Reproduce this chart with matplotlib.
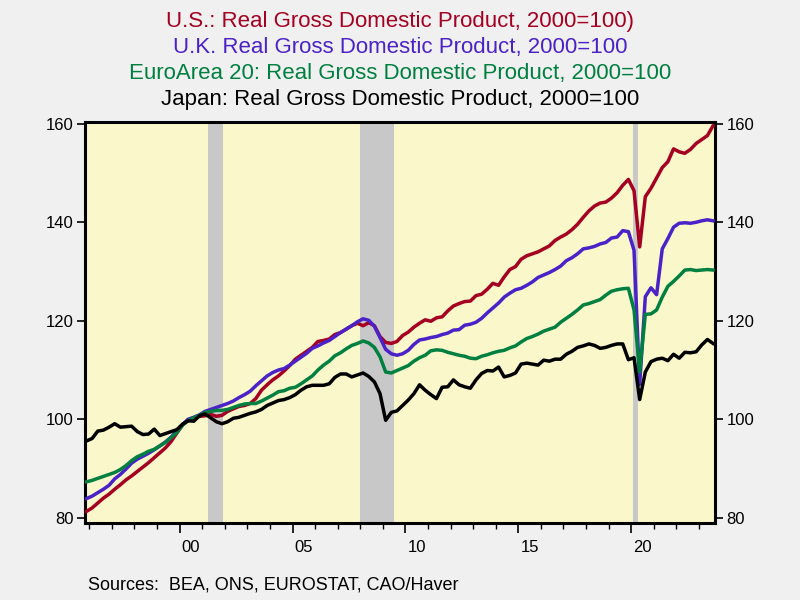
import matplotlib.pyplot as plt
import pandas as pd

plt.rcParams['font.family'] = ['Liberation Sans', 'DejaVu Sans']

# quarterly data, 1995Q4 .. 2023Q3, index 2000=100
quarters = pd.period_range('1995Q4', '2023Q3', freq='Q')

us = [
    81.3,
    82.0, 83.0, 84.0, 84.8,
    85.8, 86.7, 87.7, 88.5,
    89.4, 90.3, 91.2, 92.2,
    93.2, 94.2, 95.5, 97.2,
    98.8, 99.9, 100.3, 100.6,
    100.7, 101.0, 100.6, 100.8,
    101.6, 102.1, 102.6, 102.8,
    103.2, 104.2, 105.9, 107.0,
    108.0, 108.8, 109.8, 110.9,
    112.2, 113.0, 113.8, 114.6,
    115.8, 116.0, 116.3, 117.2,
    117.6, 118.3, 119.0, 119.5,
    119.0, 119.6, 119.0, 116.8,
    115.6, 115.4, 115.8, 117.0,
    117.7, 118.7, 119.5, 120.2,
    119.9, 120.6, 120.8, 122.0,
    123.0, 123.5, 123.9, 124.0,
    125.1, 125.4, 126.4, 127.6,
    127.2, 128.9, 130.4, 131.0,
    132.5, 133.2, 133.6, 134.0,
    134.6, 135.2, 136.3, 137.0,
    137.6, 138.5, 139.6, 141.0,
    142.3, 143.3, 143.9, 144.1,
    144.9, 146.0, 147.5, 148.7,
    146.4, 135.0, 145.2, 146.9,
    149.0, 151.1, 152.3, 154.9,
    154.3, 154.0, 154.8, 156.0,
    156.8, 157.6, 159.6,
]

uk = [
    83.9,
    84.4, 85.1, 85.8, 86.6,
    87.9, 88.8, 89.9, 91.1,
    91.9, 92.5, 93.1, 93.8,
    94.6, 95.4, 96.4, 97.6,
    98.9, 100.0, 100.4, 100.9,
    101.6, 102.0, 102.4, 102.8,
    103.2, 103.7, 104.4, 105.0,
    105.7, 106.8, 107.8, 108.8,
    109.5, 110.0, 110.3, 111.0,
    111.8, 112.6, 113.4, 114.4,
    114.9, 115.5, 116.0, 116.8,
    117.6, 118.3, 119.0, 119.8,
    120.4, 120.1, 118.9, 116.6,
    114.2, 113.3, 113.0, 113.3,
    114.0, 115.2, 116.1, 116.3,
    116.6, 116.8, 117.2, 117.5,
    118.1, 118.2, 119.1, 119.3,
    119.7, 120.5, 121.6, 122.6,
    123.6, 124.8, 125.6, 126.3,
    126.6, 127.2, 127.9, 128.8,
    129.3, 129.8, 130.4, 131.1,
    132.2, 132.8, 133.6, 134.6,
    134.8, 135.1, 135.6, 135.9,
    136.8, 137.0, 138.3, 138.1,
    134.3, 107.1, 124.9, 126.7,
    125.3, 134.6, 136.7, 139.0,
    139.8, 139.9, 139.8, 140.0,
    140.3, 140.5, 140.3,
]

ea = [
    87.3,
    87.6, 88.0, 88.4, 88.8,
    89.2, 89.8, 90.6, 91.6,
    92.4, 92.9, 93.5, 93.9,
    94.6, 95.3, 96.3, 97.3,
    98.8, 99.7, 100.3, 100.8,
    101.4, 101.6, 101.8, 101.8,
    102.0, 102.4, 102.8, 103.1,
    103.2, 103.2, 103.7, 104.3,
    104.9, 105.6, 105.8, 106.3,
    106.5, 107.2, 108.0, 108.8,
    110.0, 111.0, 111.8, 112.9,
    113.5, 114.3, 115.0, 115.4,
    115.9, 115.5, 114.6, 112.7,
    109.6, 109.4, 109.9, 110.4,
    110.9, 111.8, 112.5, 113.0,
    113.9, 114.1, 114.0, 113.6,
    113.3, 113.0, 112.8, 112.4,
    112.3, 112.8, 113.1, 113.5,
    113.8, 114.0, 114.5, 114.9,
    115.7, 116.4, 116.8, 117.3,
    117.9, 118.3, 118.7, 119.7,
    120.5, 121.3, 122.2, 123.2,
    123.5, 123.9, 124.3, 125.2,
    126.0, 126.3, 126.5, 126.6,
    122.2, 109.6, 121.3, 121.4,
    122.2, 124.8, 127.0, 128.0,
    129.1, 130.3, 130.4, 130.2,
    130.3, 130.4, 130.3,
]

jp = [
    95.6,
    96.1, 97.6, 97.8, 98.4,
    99.1, 98.4, 98.5, 98.6,
    97.5, 96.9, 97.0, 98.0,
    96.7, 97.1, 97.5, 97.9,
    99.0, 99.7, 99.6, 100.7,
    101.1, 100.3, 99.5, 99.1,
    99.5, 100.2, 100.4, 100.8,
    101.2, 101.5, 102.0, 102.8,
    103.3, 103.8, 104.0, 104.4,
    105.0, 105.9, 106.6, 106.9,
    106.9, 106.9, 107.2, 108.5,
    109.2, 109.2, 108.6, 109.0,
    109.4, 108.7, 107.6, 105.2,
    99.8, 101.4, 101.7, 102.8,
    103.9, 105.2, 107.0, 105.9,
    105.0, 104.2, 106.5, 106.6,
    108.0, 107.0, 106.6, 106.3,
    108.0, 109.3, 109.9, 109.8,
    110.6, 108.6, 108.9, 109.4,
    111.2, 111.4, 111.2, 111.0,
    112.0, 111.8, 112.2, 112.2,
    113.2, 113.8, 114.6, 114.9,
    115.3, 115.0, 114.4, 114.6,
    115.0, 115.3, 115.3, 112.1,
    112.5, 104.0, 109.6, 111.7,
    112.2, 112.4, 111.9, 113.2,
    112.4, 113.6, 113.5, 113.7,
    115.1, 116.2, 115.4,
]

recessions = [(2001.25, 2001.92), (2008.0, 2009.5), (2020.1, 2020.3)]

titles = [
    ("U.S.: Real Gross Domestic Product, 2000=100)", '#A50021'),
    ("U.K. Real Gross Domestic Product, 2000=100", '#4B22C8'),
    ("EuroArea 20: Real Gross Domestic Product, 2000=100", '#008040'),
    ("Japan: Real Gross Domestic Product, 2000=100", '#000000'),
]

year_labels = ['00', '05', '10', '15', '20']
label_years = [2000, 2005, 2010, 2015, 2020]

t = [q.year + (q.quarter - 1) * 0.25 + 0.125 for q in quarters]

fig = plt.figure(figsize=(8, 6), dpi=100, facecolor='#F0F0F0')
ax = fig.add_axes([0.106, 0.128, 0.788, 0.669])
ax.set_facecolor('#FAF8CA')

for a, b in recessions:
    ax.axvspan(a, b, color='#C8C8C8', lw=0, zorder=1)

ax.plot(t, us, color=titles[0][1], lw=2.5, zorder=3)
ax.plot(t, uk, color=titles[1][1], lw=2.5, zorder=3)
ax.plot(t, ea, color=titles[2][1], lw=2.5, zorder=3)
ax.plot(t, jp, color=titles[3][1], lw=2.5, zorder=3)

ax.set_xlim(1995.8, 2023.72)
ax.set_ylim(78.9, 160.4)
ax.set_yticks([80, 100, 120, 140, 160])
ax.tick_params(axis='y', left=True, right=True, labelleft=True, labelright=True,
               direction='out', length=6, width=1.2, labelsize=12, pad=2)

ax.set_xticks(label_years)
ax.set_xticks(range(1996, 2024), minor=True)
ax.tick_params(axis='x', which='major', length=7, width=1.2, labelbottom=False)
ax.tick_params(axis='x', which='minor', length=4, width=1)

sec = ax.secondary_xaxis('bottom')
sec.set_xticks([y + 0.5 for y in label_years], labels=year_labels)
sec.tick_params(length=0, pad=12, labelsize=12)
sec.spines['bottom'].set_visible(False)

for s in ax.spines.values():
    s.set_linewidth(2.2)

for i, (txt, c) in enumerate(titles):
    fig.text(0.5, 0.965 - i * 0.0437, txt, ha='center', va='center', color=c, fontsize=16)

fig.text(0.11, 0.025, "Sources:  BEA, ONS, EUROSTAT, CAO/Haver", ha='left', va='center', fontsize=13)

fig.savefig('out.png', dpi=100, facecolor=fig.get_facecolor())
